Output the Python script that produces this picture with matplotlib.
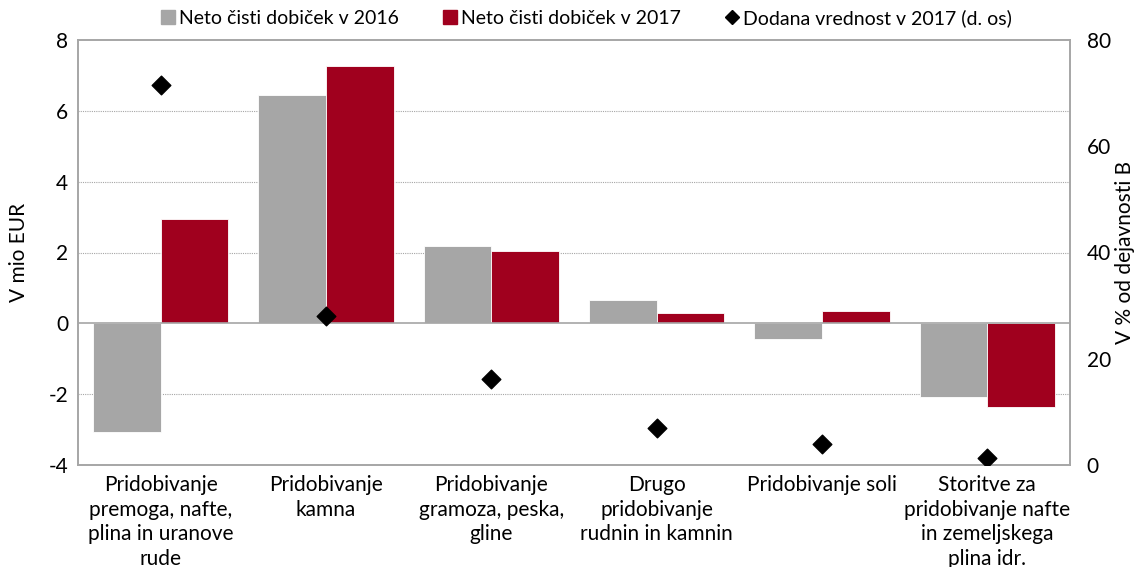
import numpy as np
import matplotlib.pyplot as plt
from matplotlib.lines import Line2D
from matplotlib.patches import Patch

categories = ["Pridobivanje\npremoga, nafte,\nplina in uranove\nrude",
              "Pridobivanje\nkamna",
              "Pridobivanje\ngramoza, peska,\ngline",
              "Drugo\npridobivanje\nrudnin in kamnin",
              "Pridobivanje soli",
              "Storitve za\npridobivanje nafte\nin zemeljskega\nplina idr."]
profit_2016 = [-3.07, 6.45, 2.19, 0.65, -0.45, -2.09]
profit_2017 = [2.95, 7.28, 2.04, 0.28, 0.34, -2.36]
value_added_2017 = [71.5, 28.0, 16.2, 7.0, 4.0, 1.3]

plt.rcParams['font.family'] = ['Lato', 'DejaVu Sans']
plt.rcParams['font.size'] = 15
plt.rcParams['axes.unicode_minus'] = False

gray = '#a6a6a6'
red = '#a0001e'

fig = plt.figure(figsize=(11.41, 5.67), dpi=100)
ax = fig.add_axes([78/1141, 1 - 465/567, 992/1141, 425/567])
ax2 = ax.twinx()

x = np.arange(len(categories))
w = 0.41
ax.bar(x - w/2, profit_2016, w, color=gray, edgecolor='white', linewidth=0.6, zorder=2)
ax.bar(x + w/2, profit_2017, w, color=red, edgecolor='white', linewidth=0.6, zorder=2)
ax.axhline(0, color='#a6a6a6', linewidth=1.2, zorder=3)

ax.set_ylim(-4, 8)
ax.set_yticks(np.arange(-4, 9, 2))
ax.set_xlim(-0.5, len(categories) - 0.5)
ax.set_xticks(x)
ax.set_xticklabels(categories, linespacing=1.3)
for y in [-2, 2, 4, 6]:
    ax.axhline(y, color='#a6a6a6', linewidth=0.8, linestyle=(0, (1, 1)), zorder=1)
ax.tick_params(length=0, pad=7)
ax.set_ylabel("V mio EUR", labelpad=14)

ax2.scatter(x, value_added_2017, marker='D', s=90, color='black', zorder=4)
ax2.set_ylim(0, 80)
ax2.set_yticks(np.arange(0, 81, 20))
ax2.tick_params(length=0, pad=12)
fig.text(1125/1141, 1 - 252/567, "V % od dejavnosti B", rotation=90,
         ha='center', va='center')

for a in (ax, ax2):
    for s in a.spines.values():
        s.set_color('#a6a6a6')
        s.set_linewidth(1.2)

handles = [Patch(color=gray), Patch(color=red),
           Line2D([], [], marker='D', color='black', linestyle='none', markersize=7)]
labels = ["Neto čisti dobiček v 2016", "Neto čisti dobiček v 2017",
          "Dodana vrednost v 2017 (d. os)"]
fig.legend(handles, labels, loc='center', bbox_to_anchor=(0.514, 1 - 18/567), ncol=3,
           frameon=False, fontsize=14, handlelength=0.7, handleheight=0.7,
           handletextpad=0.2, columnspacing=2.3)

fig.savefig('out.png', dpi=100)
